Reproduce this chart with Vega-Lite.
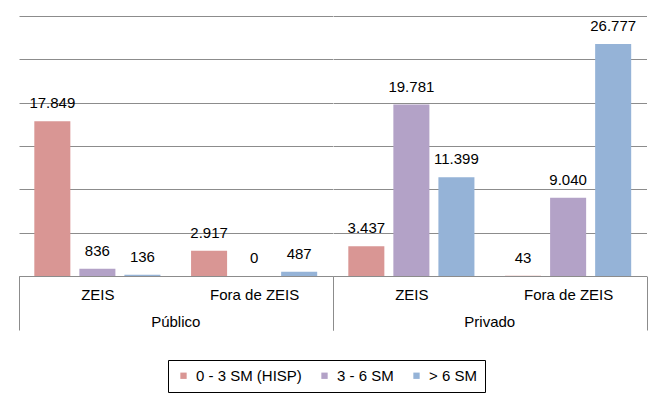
{
  "$schema": "https://vega.github.io/schema/vega-lite/v6.json",
  "padding": {"left": 18, "top": 16, "right": 8, "bottom": 5},
  "config": {
    "view": {"stroke": null},
    "font": "Liberation Sans",
    "locale": {"number": {"decimal": ",", "thousands": ".", "grouping": [3], "currency": ["R$", ""]}}
  },
  "data": {"values": [
    {"setor": "Público", "local": "ZEIS", "faixa": "0 - 3 SM (HISP)", "valor": 17849},
    {"setor": "Público", "local": "ZEIS", "faixa": "3 - 6 SM", "valor": 836},
    {"setor": "Público", "local": "ZEIS", "faixa": "> 6 SM", "valor": 136},
    {"setor": "Público", "local": "Fora de ZEIS", "faixa": "0 - 3 SM (HISP)", "valor": 2917},
    {"setor": "Público", "local": "Fora de ZEIS", "faixa": "3 - 6 SM", "valor": 0},
    {"setor": "Público", "local": "Fora de ZEIS", "faixa": "> 6 SM", "valor": 487},
    {"setor": "Privado", "local": "ZEIS", "faixa": "0 - 3 SM (HISP)", "valor": 3437},
    {"setor": "Privado", "local": "ZEIS", "faixa": "3 - 6 SM", "valor": 19781},
    {"setor": "Privado", "local": "ZEIS", "faixa": "> 6 SM", "valor": 11399},
    {"setor": "Privado", "local": "Fora de ZEIS", "faixa": "0 - 3 SM (HISP)", "valor": 43},
    {"setor": "Privado", "local": "Fora de ZEIS", "faixa": "3 - 6 SM", "valor": 9040},
    {"setor": "Privado", "local": "Fora de ZEIS", "faixa": "> 6 SM", "valor": 26777}
  ]},
  "facet": {
    "column": {
      "field": "setor", "type": "nominal", "sort": ["Público", "Privado"],
      "header": {"labelOrient": "bottom", "title": null, "labelFontSize": 15, "labelFont": "Liberation Sans", "labelColor": "#000", "labelPadding": -16}
    }
  },
  "spacing": 0,
  "spec": {
    "width": 313.5,
    "height": 260,
    "encoding": {
      "x": {
        "field": "local", "type": "nominal", "sort": ["ZEIS", "Fora de ZEIS"],
        "scale": {"paddingInner": 0, "paddingOuter": 0},
        "axis": {
          "title": null, "labelAngle": 0, "labelFontSize": 15, "labelColor": "#000", "labelPadding": -43,
          "tickBand": "extent", "tickSize": 54, "domainColor": "#8c8c8c",
          "tickColor": {"condition": {"test": "datum.value === 'ZEIS' && !datum.extra", "value": "transparent"}, "value": "#8c8c8c"}
        }
      },
      "xOffset": {
        "field": "faixa", "type": "nominal", "sort": ["0 - 3 SM (HISP)", "3 - 6 SM", "> 6 SM"],
        "scale": {"paddingInner": 0.2, "paddingOuter": 0.34}
      },
      "y": {
        "field": "valor", "type": "quantitative",
        "scale": {"domain": [0, 30000], "nice": false},
        "axis": {"values": [0, 5000, 10000, 15000, 20000, 25000, 30000], "labels": false, "ticks": false, "domain": false, "title": null, "gridColor": "#8c8c8c", "gridOpacity": 1}
      }
    },
    "layer": [
      {
        "mark": {"type": "bar"},
        "encoding": {
          "color": {
            "field": "faixa", "type": "nominal", "sort": ["0 - 3 SM (HISP)", "3 - 6 SM", "> 6 SM"],
            "scale": {"domain": ["0 - 3 SM (HISP)", "3 - 6 SM", "> 6 SM"], "range": ["#D99694", "#B3A2C7", "#95B3D7"]},
            "legend": {
              "orient": "none", "legendX": 149, "legendY": 344, "direction": "horizontal", "title": null,
              "strokeColor": "#000", "padding": 8, "symbolType": "square", "symbolSize": 40, "labelOffset": 5,
              "labelFontSize": 15, "labelColor": "#000", "columnPadding": 15
            }
          }
        }
      },
      {
        "mark": {"type": "text", "baseline": "bottom", "dy": -10, "fontSize": 15, "color": "#000"},
        "encoding": {
          "text": {"field": "valor", "type": "quantitative", "format": ",d"}
        }
      }
    ]
  }
}
